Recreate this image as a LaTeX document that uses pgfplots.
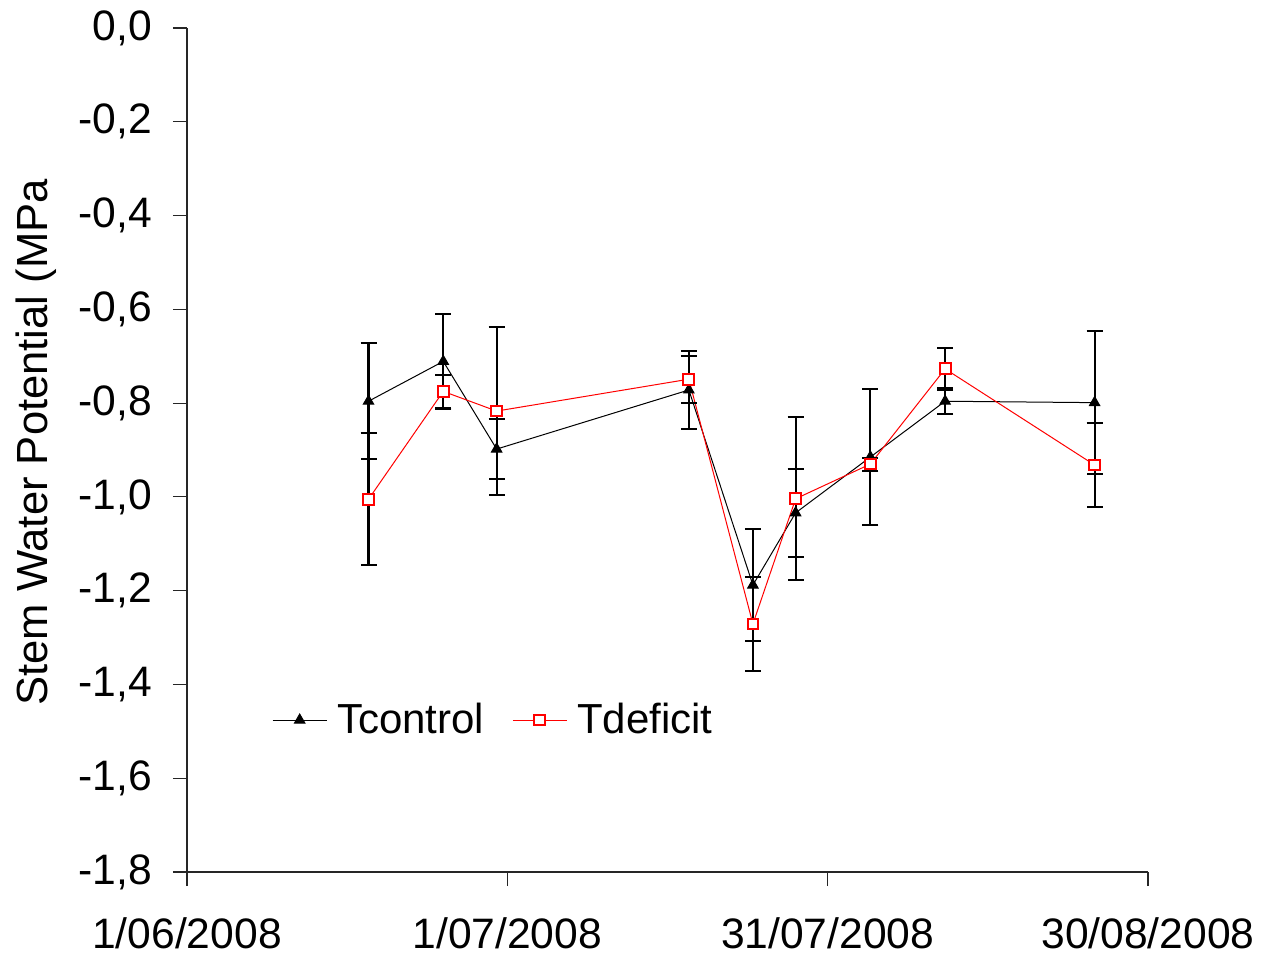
\documentclass[border=0pt]{standalone}
\usepackage{fontspec}
\setmainfont{Liberation Sans}
\usepackage{pgfplots}
\usepackage{pgfplotstable}
\pgfplotsset{compat=1.18}

\pgfplotstableread{
day y err
17 -0.796 0.124
24 -0.711 0.102
29 -0.898 0.064
47 -0.772 0.083
53 -1.188 0.119
57 -1.034 0.094
64 -0.915 0.145
71 -0.796 0.028
85 -0.799 0.153
}\tcontrol

\pgfplotstableread{
day y err
17 -1.005 0.141
24 -0.775 0.036
29 -0.817 0.179
47 -0.749 0.050
53 -1.271 0.100
57 -1.004 0.174
64 -0.930 0.014
71 -0.727 0.045
85 -0.932 0.090
}\tdeficit

\begin{document}
\begin{tikzpicture}
\path[use as bounding box] (-93.5pt,-43.5pt) rectangle (537pt,436pt);
\begin{axis}[
  at={(0,0)}, anchor=south west,
  scale only axis,
  width=480.5pt, height=422pt,
  xmin=0, xmax=90, ymin=-1.8, ymax=0,
  axis x line=bottom, axis y line=left,
  axis line style={-, line width=0.6pt, black!85},
  tick align=outside,
  major tick length=7pt,
  tick style={line width=0.6pt, black!85},
  xtick={0,30,60,90},
  xticklabels={1/06/2008,1/07/2008,31/07/2008,30/08/2008},
  ytick={-1.8,-1.6,-1.4,-1.2,-1.0,-0.8,-0.6,-0.4,-0.2,0},
  yticklabels={{-1,8},{-1,6},{-1,4},{-1,2},{-1,0},{-0,8},{-0,6},{-0,4},{-0,2},{0,0}},
  ticklabel style={font=\fontsize{21.3pt}{24pt}\selectfont},
  xticklabel style={yshift=-12.5pt},
  yticklabel style={xshift=-7pt},
  ylabel={Stem Water Potential (MPa},
  ylabel style={at={(axis description cs:-0.157,0.509)}, anchor=center, font=\fontsize{21.8pt}{25pt}\selectfont},
  clip=false,
  legend columns=2,
  legend style={at={(axis description cs:0.082,0.18)}, anchor=west, draw=none, fill=none,
    font=\fontsize{21pt}{24pt}\selectfont,
    /tikz/every odd column/.append style={column sep=3pt},
    /tikz/every even column/.append style={column sep=12pt}},
  legend image code/.code={\draw[mark repeat=2,mark phase=2] plot coordinates {(0pt,0pt) (13.5pt,0pt) (27pt,0pt)};},
]
\addplot[black, line width=0.5pt, mark=triangle*, mark size=3pt,
  mark options={fill=black, solid},
  error bars/.cd, y dir=both, y explicit,
  error mark=|, error mark options={black, mark size=4pt, line width=1pt},
  error bar style={black, line width=1.1pt}]
  table[x=day, y=y, y error=err] {\tcontrol};
\addlegendentry{Tcontrol}
\addplot[red, line width=0.5pt, mark=square*, mark size=2.7pt,
  mark options={fill=white, draw=red, line width=1pt, solid},
  error bars/.cd, y dir=both, y explicit,
  error mark=|, error mark options={black, mark size=4pt, line width=1pt},
  error bar style={black, line width=1.1pt}]
  table[x=day, y=y, y error=err] {\tdeficit};
\addlegendentry{Tdeficit}
\end{axis}
\end{tikzpicture}
\end{document}
